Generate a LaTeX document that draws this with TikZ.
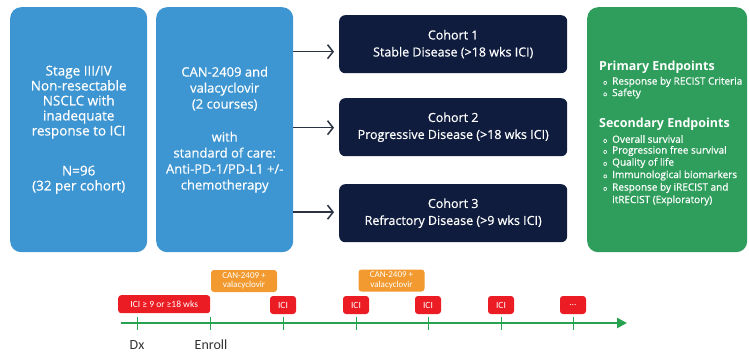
\documentclass[tikz,border=0pt]{standalone}
\usepackage{fontspec}
\setmainfont{Open Sans}
\newfontfamily\medfont[FakeBold=0.6]{Open Sans}
\newfontfamily\calfont{Carlito}
\usetikzlibrary{arrows.meta,calc}
\definecolor{bblue}{HTML}{3D95D1}
\definecolor{navy}{HTML}{0F1C3E}
\definecolor{egreen}{HTML}{2F9E5C}
\definecolor{tgreen}{HTML}{27A24E}
\definecolor{cred}{HTML}{EC1C24}
\definecolor{corange}{HTML}{F29A30}
\definecolor{arrgray}{HTML}{2B3242}
\definecolor{labgray}{HTML}{333333}
\tikzset{
  bigbox/.style={rounded corners=11pt, inner sep=0pt, text=white, align=center, anchor=north west},
  cohortbox/.style={rounded corners=6pt, fill=navy, inner sep=0pt, text=white, align=center, anchor=north west,
    minimum width=228pt, minimum height=58pt, font=\medfont\fontsize{12.5}{17}\selectfont},
  conn/.style={draw=arrgray, line width=1.5pt, -{Straight Barb[length=5.5pt,width=14pt,line width=1.5pt]}},
  hd/.style={anchor=west, inner sep=0pt, text=white, font=\fontsize{12.5}{14}\selectfont\bfseries},
  itm/.style={anchor=west, inner sep=0pt, text=white, font=\medfont\fontsize{10}{12}\selectfont},
  redbox/.style={fill=cred, rounded corners=3pt, inner sep=0pt, text=white, minimum width=26pt, minimum height=18pt,
    font=\calfont\fontsize{9.5}{10}\selectfont},
  orbox/.style={fill=corange, rounded corners=3pt, inner sep=0pt, text=white, align=center, minimum width=66pt,
    minimum height=22pt, font=\calfont\fontsize{9}{9.5}\selectfont},
  tl/.style={draw=tgreen, line width=2.6pt, -{Triangle[length=10pt,width=10pt]}},
  tickmark/.style={draw=tgreen, line width=1pt},
  lab/.style={inner sep=0pt, text=labgray, font=\calfont\fontsize{14}{15}\selectfont}
}
\newcommand{\bul}{\makebox[9pt][l]{\fontsize{6.5}{7}\selectfont o}}
\begin{document}
\begin{tikzpicture}[x=1pt,y=-1pt]
\useasboundingbox[fill=white] (0,0) rectangle (749,354);

% big boxes
\node[bigbox, fill=bblue, minimum width=137pt, minimum height=245pt, font=\medfont\fontsize{13.5}{15}\selectfont] (A) at (10,7)
  {Stage III/IV\\Non-resectable\\NSCLC with\\inadequate\\response to ICI\\[25pt]N=96\\(32 per cohort)};
\node[bigbox, fill=bblue, minimum width=137pt, minimum height=245pt, font=\medfont\fontsize{13}{16}\selectfont] (B) at (156,7)
  {CAN-2409 and\\valacyclovir\\(2 courses)\\[17pt]with\\standard of care:\\Anti-PD-1/PD-L1 +/-\\chemotherapy};
\node[bigbox, fill=egreen, minimum width=160pt, minimum height=245pt] (G) at (587,7) {};

% cohorts
\node[cohortbox] (c1) at (339,15) {Cohort 1\\Stable Disease (>18 wks ICI)};
\node[cohortbox] (c2) at (339,98) {Cohort 2\\Progressive Disease (>18 wks ICI)};
\node[cohortbox] (c3) at (339,184) {Cohort 3\\Refractory Disease (>9 wks ICI)};

\draw[conn] ($(B.east |- c1.west)+(0,7.5)$) -- ($(c1.west)+(-5,7.5)$);
\draw[conn] ($(B.east |- c2.west)+(0,0.5)$) -- ($(c2.west)+(-5,0.5)$);
\draw[conn] ($(B.east |- c3.west)+(0,-1)$) -- ($(c3.west)+(-5,-1)$);

% endpoints
\node[hd] (p0) at (599,67) {Primary Endpoints};
\node[itm] (p1) at (603,82) {\bul Response by RECIST Criteria};
\node[itm] (p2) at (603,93.5) {\bul Safety};
\node[hd] (s0) at (599,124) {Secondary Endpoints};
\node[itm] (s1) at (603,139) {\bul Overall survival};
\node[itm] (s2) at (603,151) {\bul Progression free survival};
\node[itm] (s3) at (603,163) {\bul Quality of life};
\node[itm] (s4) at (603,175.5) {\bul Immunological biomarkers};
\node[itm] (s5) at (603,188) {\bul Response by iRECIST and};
\node[itm] (s6) at (612,200.5) {itRECIST (Exploratory)};

% timeline
\coordinate (ls) at (121,323);
\coordinate (le) at (627,323);
\coordinate (t1) at (137,323);
\coordinate (t2) at (210,323);
\coordinate (t3) at (283,323);
\coordinate (t4) at (356,323);
\coordinate (t5) at (428,323);
\coordinate (t6) at (501,323);
\coordinate (t7) at (573,323);
\draw[tl] (ls) -- (le);
\foreach \t in {t1,t2,t3,t4,t5,t6,t7}
  \draw[tickmark] ($(\t)+(0,-6)$) -- ($(\t)+(0,7)$);

\node[redbox, minimum width=92pt, anchor=north west] (r1) at (118,295) {ICI ≥ 9 or ≥18 wks};
\node[redbox] (r3) at ($(t3)+(0,-18)$) {ICI};
\node[redbox] (r4) at ($(t4)+(0,-18)$) {ICI};
\node[redbox] (r5) at ($(t5)+(0,-18)$) {ICI};
\node[redbox] (r6) at ($(t6)+(0,-18)$) {ICI};
\node[redbox] (r7) at ($(t7)+(0,-18)$) {\dots};

\node[orbox] (o1) at (244,281) {CAN-2409 +\\valacyclovir};
\node[orbox] (o2) at (391.5,280.5) {CAN-2409 +\\valacyclovir};

\node[lab] (dx) at (137,345) {Dx};
\node[lab] (enr) at (211,345) {Enroll};
\end{tikzpicture}
\end{document}
